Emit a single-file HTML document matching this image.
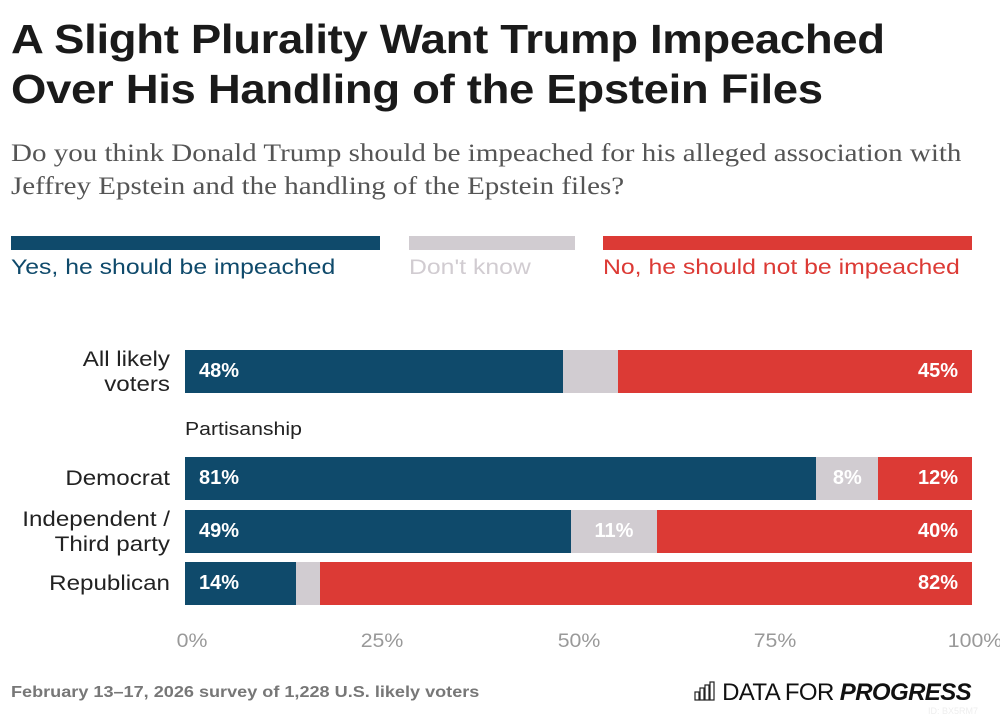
<!DOCTYPE html>
<html><head><meta charset="utf-8">
<style>
body{margin:0;width:1000px;height:717px;background:#fff;font-family:"Liberation Sans",sans-serif;position:relative;overflow:hidden}
.abs{position:absolute}
.sx{transform-origin:0 0}
h1{position:absolute;left:11px;top:14px;margin:0;font-size:41px;line-height:50px;font-weight:bold;color:#1a1a1a;letter-spacing:-0.3px;transform:scaleX(1.11);transform-origin:0 0;white-space:nowrap}
.sub{left:11px;top:137px;font-family:"Liberation Serif",serif;font-size:25px;line-height:33px;color:#555;transform:scaleX(1.16);transform-origin:0 0;white-space:nowrap}
.leg{font-size:21px;top:256px;transform:scaleX(1.18);transform-origin:0 0;white-space:nowrap}
.cat{font-size:21px;color:#222;text-align:right;width:160px;left:10px;line-height:25px;transform:scaleX(1.15);transform-origin:100% 0}
.tick{font-size:19px;color:#999;top:631px;transform:translateX(-50%) scaleX(1.12)}
.foot{left:11px;top:684px;font-size:16px;color:#777;font-weight:bold;transform:scaleX(1.13);transform-origin:0 0;white-space:nowrap}
</style></head><body>
<h1>A Slight Plurality Want Trump Impeached<br>Over His Handling of the Epstein Files</h1>
<div class="abs sub">Do you think Donald Trump should be impeached for his alleged association with<br>Jeffrey Epstein and the handling of the Epstein files?</div>

<div class="abs" style="left:11px;top:236px;width:369px;height:14px;background:#0f4a6b"></div>
<div class="abs" style="left:409px;top:236px;width:166px;height:14px;background:#d1ccd1"></div>
<div class="abs" style="left:603px;top:236px;width:369px;height:14px;background:#dc3a35"></div>
<div class="abs leg" style="left:11px;color:#0f4a6b">Yes, he should be impeached</div>
<div class="abs leg" style="left:409px;color:#d1ccd1">Don't know</div>
<div class="abs leg" style="left:603px;color:#dc3a35">No, he should not be impeached</div>

<div class="abs" style="left:185px;top:419px;font-size:18px;color:#222;transform:scaleX(1.18);transform-origin:0 0">Partisanship</div>

<div id="chart"></div>

<div class="abs foot">February 13–17, 2026 survey of 1,228 U.S. likely voters</div>
<div class="abs" style="left:694px;top:679px;font-size:24px;color:#111;letter-spacing:-0.6px;white-space:nowrap">
<svg width="22" height="20" style="vertical-align:-1px" viewBox="0 0 22 20"><g fill="none" stroke="#222" stroke-width="1.2"><rect x="1" y="11" width="4" height="8"/><rect x="6" y="7" width="4" height="12"/><rect x="11" y="4" width="4" height="15"/><rect x="16" y="1" width="4" height="18"/></g></svg>
DATA FOR <b><i>PROGRESS</i></b></div>
<div class="abs" style="left:928px;top:706px;font-size:9px;color:#eee">ID: BX5RM7</div>

<script>
const categories=["All likely\nvoters","Democrat","Independent /\nThird party","Republican"];
const yesValues=[48,81,49,14];
const dkValues=[7,8,11,3];
const noValues=[45,12,40,82];
const tickLabels=["0%","25%","50%","75%","100%"];
const tickValues=[0,25,50,75,100];

const X0=185,X1=972,rowTops=[350,457,510,562],H=43;
const xs=v=>X0+(X1-X0)*v/100;
const chart=document.getElementById('chart');
function div(css){const d=document.createElement('div');d.className='abs';d.style.cssText=css;chart.appendChild(d);return d;}
categories.forEach((c,i)=>{
  const tot=yesValues[i]+dkValues[i]+noValues[i];
  const y=yesValues[i]/tot*100,d=dkValues[i]/tot*100;
  const top=rowTops[i];
  const segs=[[0,y,'#0f4a6b',yesValues[i],'yes'],[y,y+d,'#d1ccd1',dkValues[i],'dk'],[y+d,100,'#dc3a35',noValues[i],'no']];
  segs.forEach(s=>{
    const e=div(`left:${xs(s[0])}px;top:${top}px;width:${xs(s[1])-xs(s[0])}px;height:${H}px;background:${s[2]};color:#fff;font-weight:bold;font-size:20px;line-height:${H}px;box-sizing:border-box;`);
    
    
    if(s[4]=='yes'){e.style.paddingLeft='14px';e.textContent=s[3]+'%';}
    else if(s[4]=='no'){e.style.textAlign='right';e.style.paddingRight='14px';e.textContent=s[3]+'%';}
    else if(s[3]>=8){e.style.textAlign='center';e.textContent=s[3]+'%';}
  });
  const lines=c.split('\n');
  const l=div(`top:${top+H/2-lines.length*12.5}px;`);
  l.className='abs cat';
  l.innerHTML=lines.join('<br>');
  
  
});
tickLabels.forEach((t,i)=>{
  const e=div(`left:${xs(tickValues[i])+(i==0?7:(i==4?3:0))}px;`);
  e.className='abs tick';
  e.textContent=t;
  
  
});
</script>
</body></html>
